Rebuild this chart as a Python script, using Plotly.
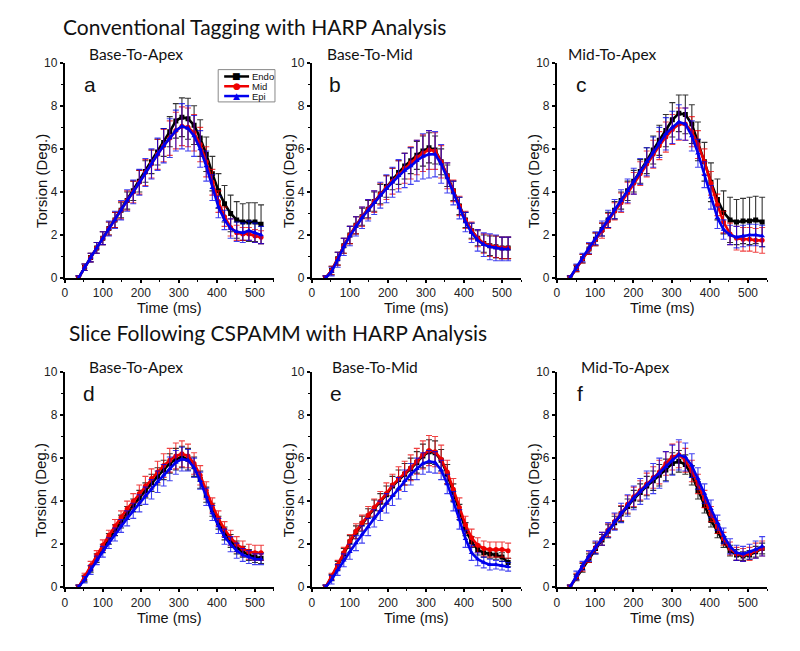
import plotly.graph_objects as go

# ---------------- data ----------------
times_ab = [36, 52, 68, 84, 100, 116, 132, 148, 164, 180, 196, 212, 228, 244, 260, 276,
            292, 308, 324, 340, 356, 372, 388, 404, 420, 436, 452, 468, 484, 500, 516]
times_cf = [34, 51, 67, 84, 101, 118, 134, 151, 168, 185, 201, 218, 235, 252, 268, 285,
            302, 319, 336, 353, 369, 386, 403, 420, 436, 453, 470, 487, 504, 520, 537]

series_names = ["Endo", "Mid", "Epi"]
x_ticks = [0, 100, 200, 300, 400, 500]
y_ticks = [0, 2, 4, 6, 8, 10]

# Panel a: Conventional tagging, Base-To-Apex
endo_a = [0.0, 0.5, 0.95, 1.4, 1.85, 2.3, 2.7, 3.15, 3.6, 4.05, 4.5, 4.95, 5.4, 5.85, 6.3, 6.8,
          7.3, 7.47, 7.4, 7.1, 6.5, 5.75, 4.85, 4.05, 3.45, 3.0, 2.7, 2.6, 2.6, 2.6, 2.5]
mid_a = [0.0, 0.5, 0.95, 1.4, 1.85, 2.3, 2.7, 3.15, 3.6, 4.0, 4.45, 4.9, 5.3, 5.75, 6.15, 6.5,
         6.85, 7.05, 7.0, 6.75, 6.2, 5.4, 4.45, 3.55, 2.85, 2.35, 2.1, 2.05, 2.05, 1.95, 1.9]
epi_a = [0.0, 0.5, 0.95, 1.4, 1.85, 2.3, 2.7, 3.15, 3.6, 4.0, 4.45, 4.9, 5.3, 5.75, 6.15, 6.5,
         6.85, 7.05, 6.95, 6.6, 6.0, 5.2, 4.2, 3.3, 2.7, 2.3, 2.15, 2.1, 2.2, 2.1, 2.0]
endo_a_err = [0.1, 0.15, 0.2, 0.25, 0.3, 0.3, 0.35, 0.35, 0.4, 0.45, 0.5, 0.5, 0.55, 0.6, 0.65, 0.7,
              0.8, 0.9, 0.95, 0.9, 0.85, 0.8, 0.8, 0.8, 0.85, 0.85, 0.85, 0.85, 0.9, 0.9, 0.9]
mid_a_err = [0.1, 0.15, 0.2, 0.25, 0.3, 0.3, 0.35, 0.4, 0.45, 0.5, 0.55, 0.6, 0.65, 0.7, 0.75, 0.8,
             0.85, 0.9, 0.9, 0.85, 0.8, 0.7, 0.6, 0.5, 0.45, 0.4, 0.35, 0.3, 0.3, 0.3, 0.3]
epi_a_err = [0.1, 0.15, 0.2, 0.25, 0.3, 0.35, 0.4, 0.45, 0.5, 0.55, 0.6, 0.65, 0.7, 0.75, 0.8, 0.9,
             0.95, 1.05, 1.05, 0.95, 0.85, 0.7, 0.6, 0.5, 0.45, 0.45, 0.45, 0.45, 0.45, 0.45, 0.4]

# Panel b: Conventional tagging, Base-To-Mid
endo_b = [0.0, 0.35, 0.9, 1.5, 2.0, 2.45, 2.85, 3.2, 3.55, 3.9, 4.25, 4.6, 4.9, 5.2, 5.45, 5.7,
          5.9, 6.05, 5.95, 5.4, 4.75, 4.05, 3.35, 2.7, 2.2, 1.85, 1.6, 1.5, 1.45, 1.4, 1.4]
mid_b = [0.0, 0.35, 0.9, 1.5, 2.0, 2.45, 2.85, 3.2, 3.55, 3.9, 4.2, 4.5, 4.8, 5.1, 5.35, 5.6,
         5.8, 5.95, 5.9, 5.4, 4.75, 4.05, 3.35, 2.7, 2.2, 1.85, 1.6, 1.5, 1.45, 1.4, 1.4]
epi_b = [0.0, 0.3, 0.85, 1.45, 1.95, 2.4, 2.8, 3.15, 3.5, 3.85, 4.15, 4.45, 4.75, 5.0, 5.2, 5.45,
         5.65, 5.75, 5.75, 5.3, 4.65, 3.95, 3.25, 2.6, 2.1, 1.75, 1.55, 1.45, 1.4, 1.35, 1.35]
endo_b_err = [0.1, 0.2, 0.3, 0.35, 0.4, 0.4, 0.4, 0.4, 0.45, 0.45, 0.5, 0.5, 0.55, 0.6, 0.6, 0.65,
              0.7, 0.7, 0.65, 0.6, 0.5, 0.45, 0.4, 0.35, 0.35, 0.35, 0.4, 0.45, 0.5, 0.5, 0.5]
mid_b_err = [0.1, 0.2, 0.3, 0.35, 0.4, 0.4, 0.45, 0.45, 0.5, 0.5, 0.55, 0.6, 0.65, 0.7, 0.75, 0.8,
             0.85, 0.9, 0.85, 0.75, 0.6, 0.5, 0.45, 0.4, 0.4, 0.4, 0.45, 0.5, 0.5, 0.5, 0.5]
epi_b_err = [0.1, 0.2, 0.35, 0.4, 0.45, 0.45, 0.5, 0.5, 0.55, 0.6, 0.65, 0.7, 0.75, 0.8, 0.85, 0.95,
             1.05, 1.1, 1.05, 0.9, 0.7, 0.55, 0.5, 0.45, 0.45, 0.5, 0.55, 0.6, 0.6, 0.55, 0.55]

# Panel c: Conventional tagging, Mid-To-Apex
endo_c = [0.0, 0.45, 0.9, 1.35, 1.8, 2.25, 2.7, 3.15, 3.6, 4.05, 4.5, 4.95, 5.45, 5.95, 6.4, 6.85,
          7.35, 7.65, 7.6, 7.15, 6.35, 5.4, 4.45, 3.65, 3.05, 2.7, 2.6, 2.65, 2.65, 2.7, 2.6]
mid_c = [0.0, 0.45, 0.9, 1.35, 1.8, 2.2, 2.65, 3.1, 3.5, 3.95, 4.4, 4.85, 5.3, 5.75, 6.15, 6.55,
         6.9, 7.15, 7.15, 6.8, 6.2, 5.4, 4.4, 3.4, 2.6, 2.05, 1.85, 1.8, 1.8, 1.75, 1.75]
epi_c = [0.0, 0.5, 0.95, 1.4, 1.85, 2.3, 2.75, 3.2, 3.6, 4.05, 4.5, 4.95, 5.4, 5.85, 6.3, 6.7,
         7.0, 7.25, 7.15, 6.6, 5.8, 4.8, 3.75, 2.8, 2.25, 2.0, 1.9, 1.95, 2.0, 2.0, 1.95]
endo_c_err = [0.1, 0.15, 0.2, 0.25, 0.3, 0.3, 0.35, 0.4, 0.4, 0.45, 0.5, 0.55, 0.6, 0.65, 0.7, 0.75,
              0.8, 0.85, 0.9, 0.9, 0.9, 0.9, 0.9, 0.95, 1.0, 1.05, 1.05, 1.05, 1.1, 1.1, 1.15]
mid_c_err = [0.1, 0.15, 0.2, 0.25, 0.3, 0.35, 0.35, 0.4, 0.45, 0.5, 0.5, 0.55, 0.6, 0.65, 0.65, 0.7,
             0.7, 0.75, 0.75, 0.7, 0.65, 0.6, 0.55, 0.5, 0.5, 0.5, 0.55, 0.55, 0.55, 0.55, 0.6]
epi_c_err = [0.1, 0.15, 0.2, 0.25, 0.3, 0.35, 0.4, 0.45, 0.5, 0.55, 0.6, 0.6, 0.65, 0.7, 0.7, 0.75,
             0.75, 0.8, 0.75, 0.7, 0.65, 0.6, 0.55, 0.5, 0.45, 0.45, 0.5, 0.5, 0.5, 0.5, 0.5]

# Panel d: Slice following CSPAMM, Base-To-Apex
endo_d = [0.0, 0.4, 0.85, 1.35, 1.8, 2.25, 2.65, 3.05, 3.45, 3.8, 4.15, 4.5, 4.85, 5.15, 5.45, 5.75,
          5.95, 6.05, 5.95, 5.6, 5.0, 4.3, 3.6, 3.0, 2.5, 2.15, 1.85, 1.65, 1.5, 1.4, 1.35]
mid_d = [0.0, 0.5, 1.0, 1.5, 1.95, 2.4, 2.85, 3.25, 3.65, 4.0, 4.35, 4.7, 5.05, 5.35, 5.65, 5.9,
         6.1, 6.2, 6.1, 5.75, 5.2, 4.5, 3.8, 3.2, 2.7, 2.3, 2.0, 1.8, 1.65, 1.6, 1.6]
epi_d = [0.0, 0.35, 0.8, 1.25, 1.65, 2.05, 2.45, 2.85, 3.2, 3.55, 3.9, 4.25, 4.55, 4.9, 5.2, 5.5,
         5.8, 5.95, 5.9, 5.55, 4.95, 4.2, 3.45, 2.85, 2.35, 2.0, 1.7, 1.5, 1.4, 1.3, 1.3]
endo_d_err = [0.1, 0.15, 0.15, 0.2, 0.2, 0.25, 0.25, 0.3, 0.3, 0.3, 0.35, 0.35, 0.4, 0.4, 0.45, 0.45,
              0.5, 0.5, 0.5, 0.45, 0.4, 0.35, 0.3, 0.3, 0.3, 0.3, 0.3, 0.25, 0.25, 0.25, 0.25]
mid_d_err = [0.1, 0.15, 0.2, 0.2, 0.25, 0.25, 0.3, 0.3, 0.35, 0.35, 0.4, 0.45, 0.45, 0.5, 0.55, 0.55,
             0.6, 0.6, 0.55, 0.5, 0.45, 0.4, 0.35, 0.35, 0.35, 0.35, 0.35, 0.35, 0.35, 0.35, 0.35]
epi_d_err = [0.1, 0.15, 0.2, 0.2, 0.25, 0.25, 0.3, 0.3, 0.35, 0.35, 0.4, 0.4, 0.45, 0.5, 0.5, 0.55,
             0.55, 0.55, 0.5, 0.45, 0.4, 0.4, 0.35, 0.35, 0.35, 0.35, 0.35, 0.3, 0.3, 0.25, 0.25]

# Panel e: Slice following CSPAMM, Base-To-Mid
endo_e = [0.0, 0.45, 1.0, 1.55, 2.1, 2.55, 2.95, 3.3, 3.65, 3.95, 4.3, 4.7, 5.0, 5.25, 5.5, 5.8,
          6.1, 6.3, 6.25, 5.9, 5.25, 4.4, 3.5, 2.7, 2.1, 1.75, 1.6, 1.55, 1.5, 1.4, 1.15]
mid_e = [0.0, 0.5, 1.05, 1.6, 2.15, 2.6, 3.0, 3.35, 3.7, 4.0, 4.35, 4.75, 5.05, 5.3, 5.55, 5.85,
         6.15, 6.35, 6.3, 5.95, 5.35, 4.55, 3.7, 2.9, 2.3, 1.95, 1.8, 1.75, 1.75, 1.75, 1.7]
epi_e = [0.0, 0.35, 0.8, 1.25, 1.65, 2.05, 2.45, 2.8, 3.2, 3.55, 3.9, 4.25, 4.6, 4.95, 5.25, 5.5,
         5.75, 5.85, 5.8, 5.45, 4.8, 4.0, 3.15, 2.25, 1.6, 1.3, 1.15, 1.05, 1.05, 1.0, 0.95]
endo_e_err = [0.1, 0.15, 0.2, 0.25, 0.3, 0.3, 0.35, 0.35, 0.4, 0.4, 0.4, 0.45, 0.45, 0.5, 0.5, 0.5,
              0.55, 0.55, 0.55, 0.5, 0.45, 0.4, 0.35, 0.3, 0.25, 0.25, 0.2, 0.2, 0.2, 0.2, 0.2]
mid_e_err = [0.1, 0.15, 0.2, 0.25, 0.3, 0.35, 0.35, 0.4, 0.4, 0.45, 0.5, 0.5, 0.55, 0.55, 0.6, 0.6,
             0.65, 0.7, 0.7, 0.65, 0.55, 0.5, 0.45, 0.4, 0.4, 0.35, 0.35, 0.35, 0.35, 0.35, 0.35]
epi_e_err = [0.1, 0.2, 0.25, 0.3, 0.35, 0.35, 0.4, 0.4, 0.4, 0.45, 0.45, 0.45, 0.5, 0.5, 0.5, 0.5,
             0.5, 0.5, 0.5, 0.45, 0.45, 0.45, 0.45, 0.4, 0.35, 0.3, 0.25, 0.25, 0.2, 0.2, 0.2]

# Panel f: Slice following CSPAMM, Mid-To-Apex
endo_f = [0.0, 0.45, 0.9, 1.35, 1.8, 2.2, 2.6, 3.0, 3.4, 3.75, 4.1, 4.4, 4.7, 4.95, 5.2, 5.45,
          5.75, 5.85, 5.7, 5.2, 4.5, 3.8, 3.1, 2.6, 2.1, 1.7, 1.5, 1.45, 1.5, 1.65, 1.8]
mid_f = [0.0, 0.5, 0.95, 1.4, 1.85, 2.25, 2.65, 3.05, 3.45, 3.85, 4.2, 4.5, 4.8, 5.1, 5.35, 5.75,
         6.05, 6.15, 5.9, 5.4, 4.8, 4.1, 3.4, 2.8, 2.25, 1.8, 1.55, 1.5, 1.55, 1.7, 1.8]
epi_f = [0.0, 0.55, 1.0, 1.45, 1.85, 2.25, 2.65, 3.05, 3.45, 3.8, 4.15, 4.45, 4.75, 5.05, 5.3, 5.6,
         5.9, 6.15, 6.05, 5.65, 5.05, 4.35, 3.65, 3.0, 2.4, 1.9, 1.6, 1.55, 1.65, 1.75, 1.9]
endo_f_err = [0.1, 0.15, 0.2, 0.2, 0.25, 0.25, 0.3, 0.3, 0.35, 0.35, 0.4, 0.4, 0.45, 0.45, 0.5, 0.5,
              0.5, 0.5, 0.45, 0.45, 0.4, 0.35, 0.3, 0.3, 0.25, 0.25, 0.25, 0.2, 0.2, 0.25, 0.25]
mid_f_err = [0.1, 0.15, 0.2, 0.25, 0.25, 0.3, 0.3, 0.35, 0.35, 0.4, 0.45, 0.45, 0.5, 0.5, 0.55, 0.55,
             0.6, 0.6, 0.55, 0.5, 0.45, 0.4, 0.35, 0.3, 0.3, 0.3, 0.3, 0.3, 0.3, 0.35, 0.35]
epi_f_err = [0.1, 0.2, 0.2, 0.25, 0.3, 0.3, 0.35, 0.4, 0.45, 0.5, 0.55, 0.6, 0.65, 0.7, 0.7, 0.7,
             0.7, 0.7, 0.65, 0.55, 0.5, 0.45, 0.4, 0.35, 0.35, 0.35, 0.35, 0.35, 0.35, 0.4, 0.45]

row_titles = ["Conventional Tagging with HARP Analysis",
              "Slice Following CSPAMM with HARP Analysis"]
panel_titles = ["Base-To-Apex", "Base-To-Mid", "Mid-To-Apex",
                "Base-To-Apex", "Base-To-Mid", "Mid-To-Apex"]
panel_letters = ["a", "b", "c", "d", "e", "f"]

panels = [
    (times_ab, [endo_a, mid_a, epi_a], [endo_a_err, mid_a_err, epi_a_err]),
    (times_ab, [endo_b, mid_b, epi_b], [endo_b_err, mid_b_err, epi_b_err]),
    (times_cf, [endo_c, mid_c, epi_c], [endo_c_err, mid_c_err, epi_c_err]),
    (times_ab, [endo_d, mid_d, epi_d], [endo_d_err, mid_d_err, epi_d_err]),
    (times_ab, [endo_e, mid_e, epi_e], [endo_e_err, mid_e_err, epi_e_err]),
    (times_cf, [endo_f, mid_f, epi_f], [endo_f_err, mid_f_err, epi_f_err]),
]

# ---------------- styling ----------------
W, H = 800, 651
SANS = "Liberation Sans"
TITLE_FONT = "Lato"
line_colors = ["#000000", "#ee0000", "#0000ee"]
err_colors = ["rgba(0,0,0,0.8)", "rgba(235,0,0,0.75)", "rgba(0,0,235,0.75)"]
symbols = ["square", "circle", "triangle-up"]
glyphs = ["\u25A0", "\u25CF", "\u25B2"]

# panel screen-pixel geometry
col_px = [(62, 272), (310, 520), (556, 767)]
row_px = [(57, 277), (373, 593)]


def px_x(v):
    return v / W


def px_y(v):
    return 1 - v / H


fig = go.Figure()
layout_axes = {}
annotations = []
shapes = []

for i, (t, ys, errs) in enumerate(panels):
    r, c = divmod(i, 3)
    idx = i + 1
    xa = "x" if idx == 1 else f"x{idx}"
    ya = "y" if idx == 1 else f"y{idx}"
    for k in range(3):
        fig.add_trace(go.Scatter(
            x=t, y=ys[k], mode="lines+markers", name=series_names[k],
            legendgroup=series_names[k], showlegend=False, hoverinfo="skip",
            line=dict(color=line_colors[k], width=2.6),
            marker=dict(symbol=symbols[k], size=5, color=line_colors[k]),
            error_y=dict(type="data", array=errs[k], visible=True,
                         color=err_colors[k], thickness=1.1, width=3),
            xaxis=xa, yaxis=ya,
        ))
    x0, x1 = col_px[c]
    y0, y1 = row_px[r]
    axis_common = dict(showline=True, linecolor="black", linewidth=2,
                       ticks="outside", ticklen=3, tickwidth=1.5, tickcolor="black",
                       showgrid=False, zeroline=False,
                       tickfont=dict(family=SANS, size=12, color="#222"))
    layout_axes[("xaxis" if idx == 1 else f"xaxis{idx}")] = dict(
        domain=[px_x(x0), px_x(x1)], range=[0, 550], anchor=ya,
        tickvals=x_ticks, minor=dict(dtick=50, ticks="outside", ticklen=2, tickwidth=1.2,
                                     tickcolor="black", tick0=0),
        **axis_common)
    layout_axes[("yaxis" if idx == 1 else f"yaxis{idx}")] = dict(
        domain=[px_y(y1), px_y(y0)], range=[0, 10], anchor=xa,
        tickvals=y_ticks, minor=dict(dtick=1, ticks="outside", ticklen=2, tickwidth=1.2,
                                     tickcolor="black", tick0=0),
        **axis_common)

    title_cx = [134, 368, 612, 133, 373, 625][i]
    title_cy = [48, 48, 48, 368, 368, 368][i]
    annotations.append(dict(text=panel_titles[i], x=px_x(title_cx), y=px_y(title_cy),
                            xref="paper", yref="paper", showarrow=False,
                            xanchor="center", yanchor="middle",
                            font=dict(family=TITLE_FONT, size=15.5, color="#111")))
    let_cx = [87, 333, 581, 86, 334, 579][i]
    let_cy = [79, 79, 79, 395, 395, 395][i]
    annotations.append(dict(text=panel_letters[i], x=px_x(let_cx), y=px_y(let_cy),
                            xref="paper", yref="paper", showarrow=False,
                            xanchor="center", yanchor="middle",
                            font=dict(family=SANS, size=21, color="#111")))
    annotations.append(dict(text="Time (ms)", x=px_x((x0 + x1) / 2), y=px_y(y1 + 31),
                            xref="paper", yref="paper", showarrow=False,
                            xanchor="center", yanchor="middle",
                            font=dict(family=SANS, size=14.5, color="#111")))
    annotations.append(dict(text="Torsion (Deg.)", x=px_x(x0 - 24), y=px_y((y0 + y1) / 2 + 11),
                            xref="paper", yref="paper", showarrow=False, textangle=-90,
                            xanchor="center", yanchor="middle",
                            font=dict(family=SANS, size=15, color="#111")))

annotations.append(dict(text=row_titles[0], x=px_x(58), y=px_y(20), xref="paper", yref="paper",
                        showarrow=False, xanchor="left", yanchor="middle",
                        font=dict(family=TITLE_FONT, size=21, color="#111")))
annotations.append(dict(text=row_titles[1], x=px_x(64), y=px_y(333), xref="paper", yref="paper",
                        showarrow=False, xanchor="left", yanchor="middle",
                        font=dict(family=TITLE_FONT, size=21, color="#111")))

# legend box (panel a, top right)
lg_x0, lg_x1, lg_y0, lg_y1 = 216, 273, 64, 97
shapes.append(dict(type="rect", xref="paper", yref="paper",
                   x0=px_x(lg_x0), x1=px_x(lg_x1), y0=px_y(lg_y1), y1=px_y(lg_y0),
                   line=dict(color="#888", width=1), fillcolor="white", layer="above"))
for k, ry in enumerate([71, 81, 91]):
    shapes.append(dict(type="line", xref="paper", yref="paper",
                       x0=px_x(222), x1=px_x(247), y0=px_y(ry), y1=px_y(ry),
                       line=dict(color=line_colors[k], width=2.5), layer="above"))
    annotations.append(dict(text=glyphs[k], x=px_x(234.5), y=px_y(ry), xref="paper", yref="paper",
                            showarrow=False, xanchor="center", yanchor="middle",
                            font=dict(family="DejaVu Sans", size=9, color=line_colors[k])))
    annotations.append(dict(text=series_names[k], x=px_x(248), y=px_y(ry), xref="paper",
                            yref="paper", showarrow=False, xanchor="left", yanchor="middle",
                            font=dict(family=SANS, size=9.5, color="#111")))

fig.update_layout(
    width=W, height=H, margin=dict(l=0, r=0, t=0, b=0),
    paper_bgcolor="white", plot_bgcolor="white",
    annotations=annotations, shapes=shapes, showlegend=False,
    **layout_axes,
)

# place the 800x651 figure flush with the page corner (no default body margin)
fig.write_html("out.html", config={"displayModeBar": False},
               post_script="document.body.style.margin='0';document.body.style.overflow='hidden';")
